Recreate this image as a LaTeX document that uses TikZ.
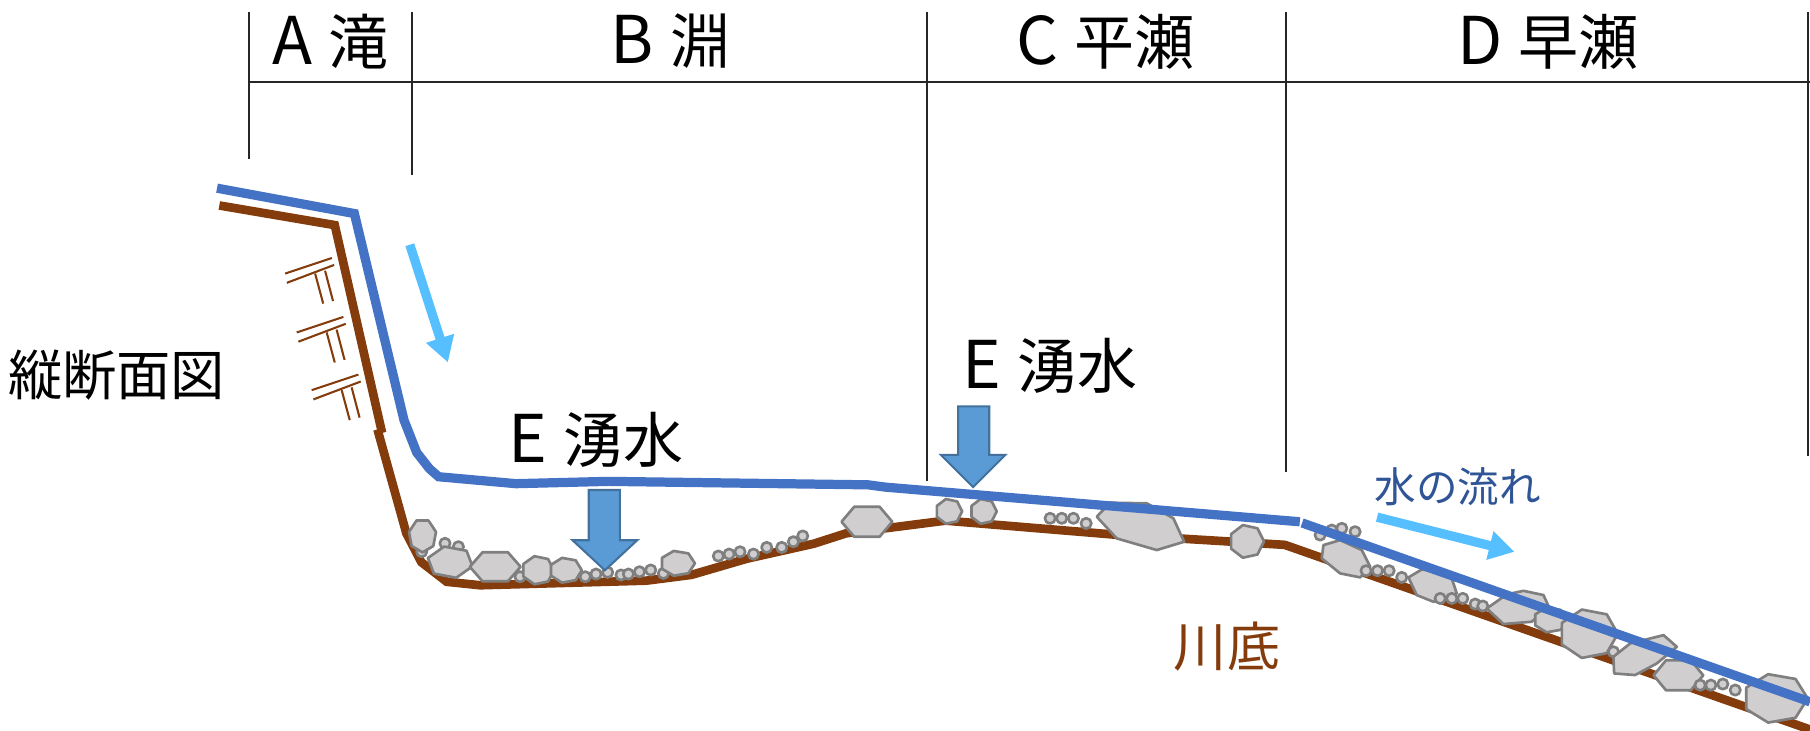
\documentclass[tikz,border=0pt]{standalone}
\usepackage{fontspec}
\setmainfont{Noto Sans CJK JP}
\usetikzlibrary{arrows.meta}
\definecolor{water}{HTML}{4472C4}
\definecolor{bed}{HTML}{843C0C}
\definecolor{flow}{HTML}{55BFFF}
\definecolor{spring}{HTML}{5B9BD5}
\definecolor{springline}{HTML}{41719C}
\definecolor{stonefill}{HTML}{D0CECE}
\definecolor{stoneline}{HTML}{7F7F7F}
\definecolor{flowtext}{HTML}{2F5597}
\definecolor{gridline}{HTML}{262626}

% polygonal stone: centre x, centre y, width, height, start angle, corners
\newcommand\stone[6]{%
  \draw[rock,shift={(#1,#2)},xscale=#3/2,yscale=#4/2]
    (#5:1) \foreach \k in {1,...,#6}{ -- ({#5+\k*360/#6}:1)} -- cycle;}
% small pebble
\newcommand\pebble[2]{\draw[rock] (#1,#2) circle[radius=4.5];}
% section letter, set a little larger than the kanji beside it
\newcommand\seclet[1]{{\fontsize{57}{60}\selectfont #1}\hspace{14pt}}

\begin{document}
\begin{tikzpicture}[x=1pt,y=-1pt,
  grid/.style={gridline,line width=1.5pt},
  waterline/.style={water,line width=8pt},
  bedline/.style={bed,line width=7.5pt},
  rock/.style={fill=stonefill,draw=stoneline,line width=2.3pt,line join=round},
  crack/.style={bed,line width=1.8pt},
  flowarrow/.style={flow,line width=8pt,-{Triangle[width=24pt,length=22pt]}},
  springarrow/.style={fill=spring,draw=springline,line width=1.8pt,line join=miter},
  lbl/.style={inner sep=0pt,font=\fontsize{52}{60}\selectfont}]
\useasboundingbox (0,0) rectangle (1568,633);

% section table
\draw[grid] (216,10) -- (216,138);
\draw[grid] (357,10) -- (357,152);
\draw[grid] (803,10) -- (803,417);
\draw[grid] (1114,10) -- (1114,409);
\draw[grid] (1566,10) -- (1566,395);
\draw[grid] (216,71) -- (1568,71);

\node[lbl] (secA) at (286,36) {\seclet{A}滝};
\node[lbl] (secB) at (581,36) {\seclet{B}淵};
\node[lbl] (secC) at (958,36) {\seclet{C}平瀬};
\node[lbl] (secD) at (1341,36) {\seclet{D}早瀬};
\node[lbl,font=\fontsize{47}{56}\selectfont] (title) at (101,325) {縦断面図};
\node[lbl] (springA) at (516,381) {\seclet{E}湧水};
\node[lbl] (springB) at (910,317) {\seclet{E}湧水};
\node[lbl,font=\fontsize{36}{44}\selectfont,text=flowtext] (flowlbl) at (1263,422) {水の流れ};
\node[lbl,font=\fontsize{46}{56}\selectfont,text=bed] (bedlbl) at (1063,560) {川底};

% river bed
\draw[bedline] (190,178) -- (290,195) -- (331,375);
\draw[bedline] (327,372) -- (352,462) -- (365,487) -- (387,504) -- (416,507)
  -- (560,503) -- (599,498) -- (647,484) -- (705,471) -- (733,462)
  -- (819,451) -- (964,463) -- (1113,472) -- (1568,632);

% cracks in the rock face
\foreach \dx/\dy in {0/0,10/51,23/101}{
  \begin{scope}[shift={(\dx,\dy)}]
    \draw[crack] (247,237) -- (287.5,223.5);
    \draw[crack] (248.5,245) -- (289.5,229.5);
    \draw[crack] (273,237) -- (280,263);
    \draw[crack] (281.6,234.5) -- (288.5,260.8);
  \end{scope}}

% stones in the pool
\pebble{365.3}{477.9}\pebble{385.5}{470.7}\pebble{397.1}{473.6}
\stone{366}{464}{24}{29}{90}{7}
\stone{390}{487}{40}{28}{15}{6}
\stone{429}{491}{44}{29}{0}{6}
\pebble{450.5}{499.6}
\stone{466}{494}{28}{25}{0}{7}
\stone{490}{494}{28}{22}{0}{7}
\pebble{507}{499.6}\pebble{516.3}{497.3}\pebble{526.4}{495.8}
\pebble{538}{498.1}\pebble{544.4}{497.3}\pebble{554}{495.3}\pebble{563.7}{493.8}
\pebble{574.7}{496.7}
\stone{587}{488}{30}{22}{0}{7}
\pebble{622.3}{481.7}\pebble{631.6}{480}\pebble{641.1}{478}\pebble{652.7}{480}
\pebble{664.2}{474.2}\pebble{677.2}{474.2}\pebble{687.3}{469.3}\pebble{695.4}{464.3}
\stone{751}{452}{44}{30}{0}{6}

% stones on the flat run
\stone{822}{443}{23}{22}{0}{7}
\stone{852}{443}{23}{22}{0}{7}
\pebble{909.7}{449}\pebble{919.8}{449}\pebble{929.9}{449}\pebble{940.9}{453.4}
\draw[rock] (950.1,447.6) -- (961.7,435.5) -- (993.4,436.0) -- (1016.5,449.0)
  -- (1025.8,469.3) -- (1002.1,476.5) -- (967.4,466.4) -- cycle;
\stone{1080}{469}{30}{29}{0}{7}

% stones in the rapids
\pebble{1143.6}{463.5}\pebble{1153.7}{459.2}\pebble{1162.4}{457.7}\pebble{1173.9}{460.6}
\draw[rock] (1146.5,472.2) -- (1160.9,467.9) -- (1179.7,476.5) -- (1187,491)
  -- (1178.3,500.2) -- (1160.9,496.7) -- (1145,483.7) -- cycle;
\pebble{1183.4}{494.4}\pebble{1193.3}{494.4}\pebble{1203.4}{494.4}\pebble{1214.3}{500.2}
\draw[rock] (1220.1,500.2) -- (1231.7,493.3) -- (1256.2,496.7) -- (1262,514.1)
  -- (1241.8,521.3) -- (1227.3,515.5) -- cycle;
\pebble{1247.6}{518.4}\pebble{1257.7}{518.4}\pebble{1267.2}{518.4}
\pebble{1277.9}{523.3}\pebble{1284.5}{525.0}
\draw[rock] (1288,527.1) -- (1305.3,514.9) -- (1319.8,511.8) -- (1337.1,515.5)
  -- (1341.4,525.0) -- (1327,538.6) -- (1302.4,540.6) -- cycle;
\stone{1343}{537}{29}{22}{0}{7}
\stone{1376}{549}{51}{43}{0}{7}
\pebble{1397.7}{564.6}
\draw[rock] (1397.7,568.9) -- (1412.2,557.4) -- (1441.1,550.2) -- (1452.6,560.3)
  -- (1435.3,574.7) -- (1416.5,584.8) -- (1398.3,583.4) -- cycle;
\stone{1454}{585}{43}{30}{0}{6}
\pebble{1472.8}{593.5}\pebble{1482.1}{593.5}\pebble{1492.5}{592.6}\pebble{1503.2}{597.8}
\stone{1538}{605}{56}{43}{0}{7}

% water surface
\draw[waterline] (188,163) -- (307,185) -- (350,364) -- (361,392) -- (372,406)
  -- (380,413) -- (447,419) -- (527,417) -- (752,420) -- (767,422) -- (1126,452);
\draw[waterline] (1128,453) -- (1568,608);

% direction of flow
\coordinate (fallTop) at (355,212);
\coordinate (fallEnd) at (388,314);
\coordinate (runTop) at (1193,448);
\coordinate (runEnd) at (1312,478);
\draw[flowarrow] (fallTop) -- (fallEnd);
\draw[flowarrow] (runTop) -- (runEnd);

% spring water welling up
\draw[springarrow] (510,424.5) -- (537,424.5) -- (537,468) -- (552,468)
  -- (524,494) -- (496,468) -- (510,468) -- cycle;
\draw[springarrow] (830,352) -- (857,352) -- (857,394) -- (871,394)
  -- (843,422) -- (815,394) -- (830,394) -- cycle;
\end{tikzpicture}
\end{document}
